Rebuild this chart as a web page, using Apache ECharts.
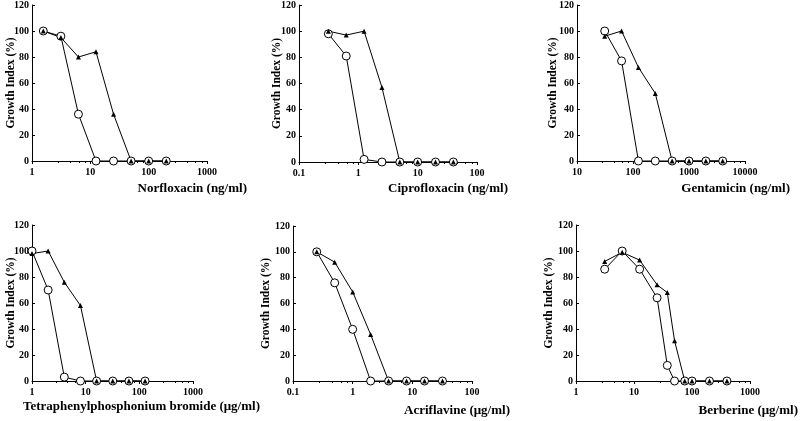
<!DOCTYPE html>
<html>
<head>
<meta charset="utf-8">
<script src="https://cdn.jsdelivr.net/npm/echarts@6/dist/echarts.min.js"></script>
<style>
  html, body { margin: 0; padding: 0; background: #fff; }
  #chart { width: 800px; height: 421px; }
</style>
</head>
<body>
<div id="chart"></div>
<script>
// concentrations and growth index (%)
const norConc = [1.5625, 3.125, 6.25, 12.5, 25, 50, 100, 200];
const norOpen = [100, 96, 36, 0, 0, 0, 0, 0];
const norFilled = [100, 95, 80, 84, 36, 0, 0, 0];

const cipConc = [0.3125, 0.625, 1.25, 2.5, 5, 10, 20, 40];
const cipOpen = [98, 81, 2, 0, 0, 0, 0, 0];
const cipFilled = [100, 97, 100, 57, 0, 0, 0, 0];

const genConc = [31.25, 62.5, 125, 250, 500, 1000, 2000, 4000];
const genOpen = [100, 77, 0, 0, 0, 0, 0, 0];
const genFilled = [96, 100, 72, 52, 0, 0, 0, 0];

const tppConc = [1, 2, 4, 8, 16, 32, 64, 128];
const tppOpen = [100, 70, 3, 0, 0, 0, 0, 0];
const tppFilled = [98, 100, 76, 58, 0, 0, 0, 0];

const acrConc = [0.25, 0.5, 1, 2, 4, 8, 16, 32];
const acrOpen = [100, 76, 40, 0, 0, 0, 0, 0];
const acrFilled = [100, 92, 69, 36, 0, 0, 0, 0];

const berConc = [3.125, 6.25, 12.5, 25, 37.5, 50, 75, 100, 200, 400];
const berOpen = [86, 100, 86, 64, 12, 0, 0, 0, 0, 0];
const berFilled = [92, 99, 93, 74, 68, 31, 0, 0, 0, 0];

const yTitle = "Growth Index (%)";

const panels = [
  { conc: norConc, open: norOpen, filled: norFilled, xName: "Norfloxacin (ng/ml)", xMin: 1, xMax: 1000,
    left: 32, top: 5, width: 175, height: 156, yGap: 15, nameRight: 247, nameY: 190 },
  { conc: cipConc, open: cipOpen, filled: cipFilled, xName: "Ciprofloxacin (ng/ml)", xMin: 0.1, xMax: 100,
    left: 299, top: 5, width: 178, height: 157, yGap: 16, nameRight: 508, nameY: 190 },
  { conc: genConc, open: genOpen, filled: genFilled, xName: "Gentamicin (ng/ml)", xMin: 10, xMax: 10000,
    left: 577, top: 5, width: 168, height: 156, yGap: 18, nameRight: 790, nameY: 190 },
  { conc: tppConc, open: tppOpen, filled: tppFilled, xName: "Tetraphenylphosphonium bromide (μg/ml)", xMin: 1, xMax: 1000,
    left: 32, top: 225, width: 161, height: 156, yGap: 15, nameRight: 260, nameY: 408 },
  { conc: acrConc, open: acrOpen, filled: acrFilled, xName: "Acriflavine (μg/ml)", xMin: 0.1, xMax: 100,
    left: 293, top: 226, width: 179, height: 155, yGap: 21, nameRight: 510, nameY: 412 },
  { conc: berConc, open: berOpen, filled: berFilled, xName: "Berberine (μg/ml)", xMin: 1, xMax: 1000,
    left: 576, top: 225, width: 174, height: 156, yGap: 21, nameRight: 798, nameY: 412 },
];

const font = "'Liberation Serif', 'Times New Roman', serif";
const black = "#000";

const chart = echarts.init(document.getElementById("chart"), null, { renderer: "canvas" });

const grid = [], xAxis = [], yAxis = [], series = [], title = [];

panels.forEach((p, i) => {
  grid.push({
    left: p.left, top: p.top, width: p.width, height: p.height,
    containLabel: false, outerBoundsMode: "none",
  });

  xAxis.push({
    type: "log",
    logBase: 10,
    gridIndex: i,
    min: p.xMin,
    max: p.xMax,
    axisLine: { show: true, onZero: false, lineStyle: { color: black, width: 1 } },
    axisTick: { show: true, length: 3, lineStyle: { color: black } },
    minorTick: { show: true, splitNumber: 5, length: 2, lineStyle: { color: black, width: 1 } },
    splitLine: { show: false },
    axisLabel: {
      fontFamily: font, fontWeight: "bold", fontSize: 10, color: black, margin: 6,
      formatter: (v) => String(+v.toPrecision(6)),
    },
  });

  yAxis.push({
    type: "value",
    gridIndex: i,
    min: 0,
    max: 120,
    interval: 20,
    name: yTitle,
    nameLocation: "middle",
    nameGap: p.yGap,
    nameMoveOverlap: false,
    nameTextStyle: { fontFamily: font, fontWeight: "bold", fontSize: 11.5, color: black },
    axisLine: { show: true, lineStyle: { color: black, width: 1 } },
    axisTick: { show: true, inside: true, length: 3, lineStyle: { color: black } },
    splitLine: { show: false },
    axisLabel: { fontFamily: font, fontWeight: "bold", fontSize: 10, color: black, margin: 3 },
  });

  title.push({
    text: p.xName,
    right: 800 - p.nameRight,
    top: p.nameY - 8,
    padding: 0,
    textStyle: { fontFamily: font, fontWeight: "bold", fontSize: 13, color: black },
  });

  series.push({
    type: "line",
    xAxisIndex: i,
    yAxisIndex: i,
    data: p.conc.map((c, k) => [c, p.open[k]]),
    symbol: "circle",
    symbolSize: 8,
    lineStyle: { color: black, width: 1 },
    itemStyle: { color: "#fff", borderColor: black, borderWidth: 1 },
    animation: false,
  });

  series.push({
    type: "line",
    xAxisIndex: i,
    yAxisIndex: i,
    data: p.conc.map((c, k) => [c, p.filled[k]]),
    symbol: "triangle",
    symbolSize: 5,
    lineStyle: { color: black, width: 1 },
    itemStyle: { color: black, borderColor: black, borderWidth: 0 },
    animation: false,
  });
});

chart.setOption({
  backgroundColor: "#fff",
  animation: false,
  title,
  grid,
  xAxis,
  yAxis,
  series,
});
</script>
</body>
</html>
